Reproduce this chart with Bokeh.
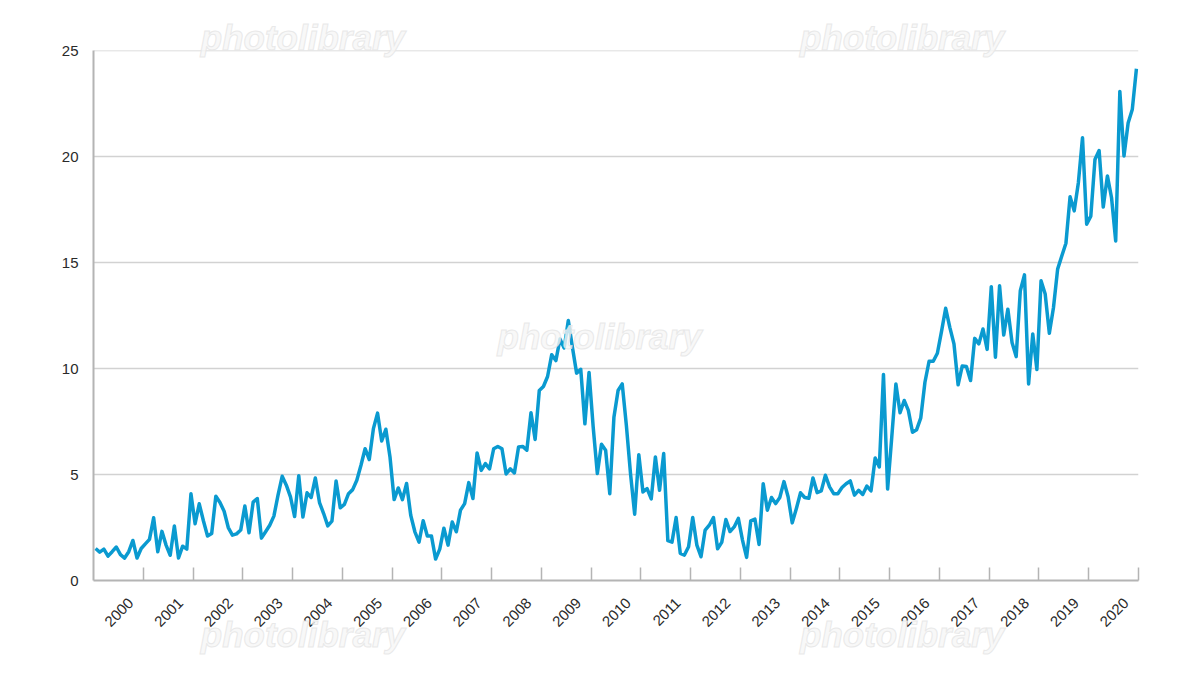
from math import pi

import numpy as np
from bokeh.embed import file_html
from bokeh.models import FixedTicker, Label, LinearAxis
from bokeh.plotting import figure
from bokeh.resources import INLINE

# monthly values, jan 2000 - dec 2020
values_2000 = [1.51, 1.34, 1.48, 1.15, 1.36, 1.58, 1.22, 1.06, 1.36, 1.89, 1.06, 1.51]
values_2001 = [1.73, 1.94, 2.96, 1.36, 2.32, 1.67, 1.19, 2.57, 1.06, 1.62, 1.48, 4.09]
values_2002 = [2.68, 3.62, 2.82, 2.10, 2.22, 3.98, 3.68, 3.27, 2.50, 2.14, 2.20, 2.38]
values_2003 = [3.52, 2.25, 3.70, 3.87, 2.00, 2.30, 2.61, 3.04, 4.03, 4.92, 4.50, 3.95]
values_2004 = [3.02, 4.95, 3.00, 4.14, 3.92, 4.84, 3.68, 3.16, 2.58, 2.80, 4.70, 3.43]
values_2005 = [3.59, 4.10, 4.29, 4.73, 5.44, 6.22, 5.71, 7.17, 7.90, 6.59, 7.14, 5.83]
values_2006 = [3.82, 4.37, 3.82, 4.58, 3.08, 2.30, 1.81, 2.82, 2.10, 2.10, 1.01, 1.48]
values_2007 = [2.47, 1.67, 2.76, 2.30, 3.32, 3.63, 4.62, 3.87, 6.02, 5.20, 5.52, 5.27]
values_2008 = [6.22, 6.33, 6.22, 5.03, 5.27, 5.08, 6.30, 6.33, 6.15, 7.92, 6.66, 8.97]
values_2009 = [9.16, 9.63, 10.66, 10.38, 11.40, 10.98, 12.27, 11.00, 9.79, 9.97, 7.40, 9.82]
values_2010 = [7.24, 5.05, 6.43, 6.15, 4.10, 7.71, 8.97, 9.28, 7.32, 5.05, 3.13, 5.94]
values_2011 = [4.18, 4.34, 3.85, 5.83, 4.26, 5.99, 1.88, 1.81, 2.97, 1.28, 1.20, 1.59]
values_2012 = [2.97, 1.67, 1.12, 2.38, 2.61, 2.97, 1.50, 1.80, 2.88, 2.31, 2.53, 2.93]
values_2013 = [1.91, 1.09, 2.82, 2.90, 1.70, 4.57, 3.32, 3.92, 3.63, 3.92, 4.67, 3.95]
values_2014 = [2.72, 3.40, 4.14, 3.92, 3.88, 4.84, 4.15, 4.23, 4.97, 4.42, 4.10, 4.10]
values_2015 = [4.39, 4.57, 4.70, 4.03, 4.26, 4.06, 4.46, 4.23, 5.78, 5.36, 9.72, 4.32]
values_2016 = [6.77, 9.28, 7.92, 8.50, 8.03, 7.00, 7.12, 7.68, 9.36, 10.35, 10.35, 10.73]
values_2017 = [11.76, 12.85, 11.95, 11.17, 9.24, 10.13, 10.10, 9.44, 11.43, 11.17, 11.87, 10.91]
values_2018 = [13.87, 10.54, 13.91, 11.59, 12.81, 11.24, 10.57, 13.68, 14.43, 9.28, 11.64, 9.96]
values_2019 = [14.15, 13.52, 11.67, 12.89, 14.70, 15.32, 15.92, 18.12, 17.45, 18.78, 20.90, 16.82]
values_2020 = [17.20, 19.87, 20.30, 17.63, 19.10, 18.07, 16.03, 23.09, 20.04, 21.60, 22.23, 24.16]

year_labels = [str(y) for y in range(2000, 2021)]
y_ticks = [0, 5, 10, 15, 20, 25]

values = (values_2000 + values_2001 + values_2002 + values_2003 + values_2004 + values_2005
          + values_2006 + values_2007 + values_2008 + values_2009 + values_2010 + values_2011
          + values_2012 + values_2013 + values_2014 + values_2015 + values_2016 + values_2017
          + values_2018 + values_2019 + values_2020)

# each month sits in the middle of its own slot, years are 12 slots wide
months = np.arange(len(values)) + 0.5
year_edges = [12 * (i + 1) for i in range(len(year_labels))]
# rotated labels hang from their right end, so move the tick right of the year's middle
year_label_ticks = [12 * i + 6 + 3 for i in range(len(year_labels))]

FONT = "Liberation Sans"
GREY = "#b4b4b4"
TEXT = "#2a2a2a"
WATERMARK = "photolibrary"
WM_SIZE = "35px"
WM_FILL = "#f7f7f7"
WM_LINE = "#e4e4e4"


def watermark_axis(ticks, standoff):
    # labels on an axis are the only texts that are not cut at the frame
    return LinearAxis(ticker=FixedTicker(ticks=ticks),
                      major_label_overrides={t: WATERMARK for t in ticks},
                      axis_line_color=None, major_tick_line_color=None, minor_tick_line_color=None,
                      major_tick_in=0, major_tick_out=0,
                      major_label_standoff=standoff, major_label_text_font=FONT,
                      major_label_text_font_size=WM_SIZE, major_label_text_font_style="bold italic",
                      major_label_text_color=WM_FILL, major_label_text_alpha=0.8,
                      major_label_text_outline_color=WM_LINE)


p = figure(frame_width=1045, frame_height=530, x_range=(0, len(values)), y_range=(0, 25.02),
           x_axis_type=None, output_backend="svg", toolbar_location=None,
           min_border_left=93, min_border_right=54, min_border_top=50, min_border_bottom=87)
p.outline_line_color = None
p.background_fill_color = "white"
p.border_fill_color = "white"

p.ygrid.grid_line_color = "#d2d2d2"
p.ygrid.grid_line_width = 1.5
p.ygrid.ticker = FixedTicker(ticks=y_ticks)

p.yaxis.ticker = FixedTicker(ticks=y_ticks)
p.yaxis.axis_line_color = GREY
p.yaxis.axis_line_width = 2
p.yaxis.major_tick_line_color = None
p.yaxis.minor_tick_line_color = None
p.yaxis.major_label_text_font = FONT
p.yaxis.major_label_text_font_size = "15px"
p.yaxis.major_label_text_color = TEXT
p.yaxis.major_label_standoff = 9

# minor ticks mark the year edges, the major ones only place the labels
year_axis = LinearAxis(ticker=FixedTicker(ticks=year_label_ticks, minor_ticks=year_edges),
                       major_label_overrides=dict(zip(year_label_ticks, year_labels)),
                       axis_line_color=GREY, axis_line_width=2,
                       major_tick_line_color=None, major_tick_in=0, major_tick_out=0,
                       minor_tick_line_color=GREY, minor_tick_line_width=1.5,
                       minor_tick_in=13, minor_tick_out=0,
                       major_label_orientation=pi / 4, major_label_standoff=20,
                       major_label_text_font=FONT, major_label_text_font_size="15px",
                       major_label_text_color=TEXT)
p.add_layout(year_axis, "below")

p.line(months, values, line_color="#0a9ad0", line_width=3.5, line_join="round")

p.add_layout(watermark_axis([50.5, 195], -6), "above")
p.add_layout(watermark_axis([50.5, 195], -20), "below")
p.add_layout(Label(x=404, y=225, x_units="screen", y_units="screen", text=WATERMARK,
                   text_font=FONT, text_font_size=WM_SIZE, text_font_style="bold italic",
                   text_color=WM_FILL, text_alpha=0.8, text_outline_color=WM_LINE,
                   level="overlay"))

open("out.html", "w").write(file_html(p, INLINE))
